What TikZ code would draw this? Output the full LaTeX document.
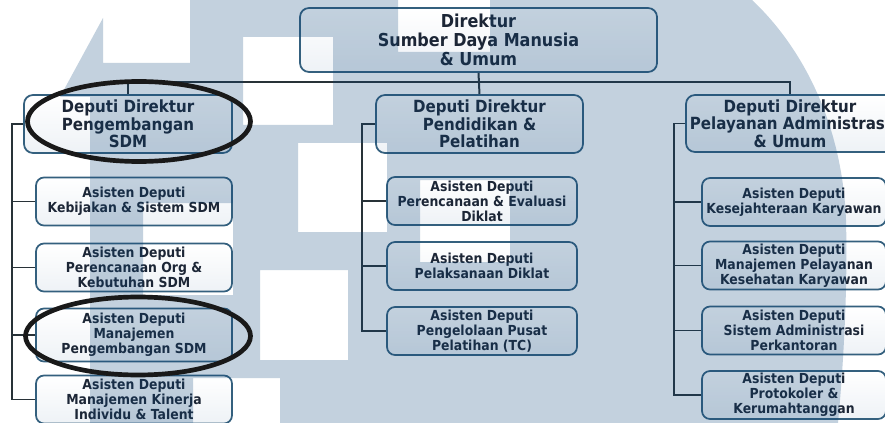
\documentclass[tikz,border=0pt]{standalone}
\usepackage{fontspec}
\setmainfont{DejaVu Sans}[FakeStretch=0.9]
\usetikzlibrary{shapes.geometric}

\newdimen\pix \pix=0.03cm
\definecolor{boxline}{RGB}{52,96,126}
\definecolor{boxfill}{RGB}{238,242,246}
\definecolor{ink}{RGB}{28,38,54}
\definecolor{wire}{RGB}{40,50,56}
\definecolor{wmblue}{RGB}{16,72,124}

\begin{document}
\begin{tikzpicture}[x=0.03cm, y=-0.03cm]
\tikzstyle{head} = [rectangle, draw=boxline, line width=1.5pt, top color=white,
bottom color=boxfill, rounded corners=9\pix, align=center, text=ink, inner sep=0pt,
font=\bfseries\fontsize{15.2}{16.2}\selectfont, minimum width=357\pix, minimum height=64\pix]
\tikzstyle{deputy} = [head, font=\bfseries\fontsize{14.3}{15}\selectfont,
minimum width=208\pix, minimum height=58\pix]
\tikzstyle{assist} = [head, rounded corners=8\pix,
font=\bfseries\fontsize{11.8}{12.8}\selectfont, minimum height=48\pix]
\tikzstyle{line} = [draw=wire, line width=1.7pt]
\tikzstyle{oval} = [ellipse, draw=black!90, line width=4pt, minimum width=223\pix, minimum height=80\pix]
\tikzstyle{wmark} = [fill=wmblue, fill opacity=0.25, even odd rule]

\fill [white] (0,0) rectangle (885,423);
\useasboundingbox (0,0) rectangle (885,423);
\clip (0,0) rectangle (885,423);

% row 1
\node [head] (dir) at (478.5,40) {Direktur\\Sumber Daya Manusia\\\& Umum};
% row 2
\node [deputy] (dep1) at (128,124) {Deputi Direktur\\Pengembangan\\SDM};
\node [deputy, minimum width=207\pix] (dep2) at (479.5,124) {Deputi Direktur\\Pendidikan \&\\Pelatihan};
\node [deputy, minimum height=57\pix] (dep3) at (790,123.5) {Deputi Direktur\\Pelayanan Administrasi\\\& Umum};
% column 1
\node [assist, minimum width=196\pix] (sdm1) at (134,201.5) {Asisten Deputi\\Kebijakan \& Sistem SDM};
\node [assist, minimum width=196\pix] (sdm2) at (134,267.5) {Asisten Deputi\\Perencanaan Org \&\\Kebutuhan SDM};
\node [assist, minimum width=196\pix, minimum height=53\pix] (sdm3) at (134,335) {Asisten Deputi\\Manajemen\\Pengembangan SDM};
\node [assist, minimum width=196\pix] (sdm4) at (134,399.5) {Asisten Deputi\\Manajemen Kinerja\\Individu \& Talent};
% column 2
\node [assist, minimum width=190\pix] (dik1) at (482,201) {Asisten Deputi\\Perencanaan \& Evaluasi\\Diklat};
\node [assist, minimum width=190\pix] (dik2) at (482,266) {Asisten Deputi\\Pelaksanaan Diklat};
\node [assist, minimum width=190\pix] (dik3) at (482,331) {Asisten Deputi\\Pengelolaan Pusat\\Pelatihan (TC)};
% column 3
\node [assist, minimum width=184\pix] (adm1) at (794,202) {Asisten Deputi\\Kesejahteraan Karyawan};
\node [assist, minimum width=184\pix] (adm2) at (794,265.5) {Asisten Deputi\\Manajemen Pelayanan\\Kesehatan Karyawan};
\node [assist, minimum width=184\pix] (adm3) at (794,330.5) {Asisten Deputi\\Sistem Administrasi\\Perkantoran};
\node [assist, minimum width=184\pix] (adm4) at (794,395) {Asisten Deputi\\Protokoler \&\\Kerumahtanggan};

% connectors
\path [line] (dir.south) -- (dep2.north);
\path [line] (dep1.north) -- ++(0,-12) -| (dep3.north);
\path [line] (dep1.west) -- ++(-11,0) coordinate (sp1) |- (sdm4.west);
\foreach \n in {sdm1,sdm2,sdm3} \path [line] (sp1 |- \n.west) -- (\n.west);
\path [line] (dep2.west) -- ++(-13,0) coordinate (sp2) |- (dik3.west);
\foreach \n in {dik1,dik2} \path [line] (sp2 |- \n.west) -- (\n.west);
\path [line] (dep3.west) -- ++(-11,0) coordinate (sp3) |- (adm4.west);
\foreach \n in {adm1,adm2,adm3} \path [line] (sp3 |- \n.west) -- (\n.west);

% watermark
\path [wmark] (190,0) -- (752,0) .. controls (800,45) and (842,120) .. (846,220)
  .. controls (848,300) and (842,380) .. (838,423) -- (90,423) -- (90,97) -- (60,97)
  -- (103,18) -- (103,63) -- (190,63) -- cycle
  (243,37) rectangle (333,125) (398,0) rectangle (490,52)
  (298,143) rectangle (387,232) (420,180) rectangle (510,262)
  (143,203) rectangle (233,295) (260,270) rectangle (348,360)
  (193,378) rectangle (280,423);

% marks
\node [oval] (mark1) at (139,121.5) {};
\node [oval, minimum width=225\pix, minimum height=78\pix] (mark2) at (138,336) {};
\end{tikzpicture}
\end{document}
